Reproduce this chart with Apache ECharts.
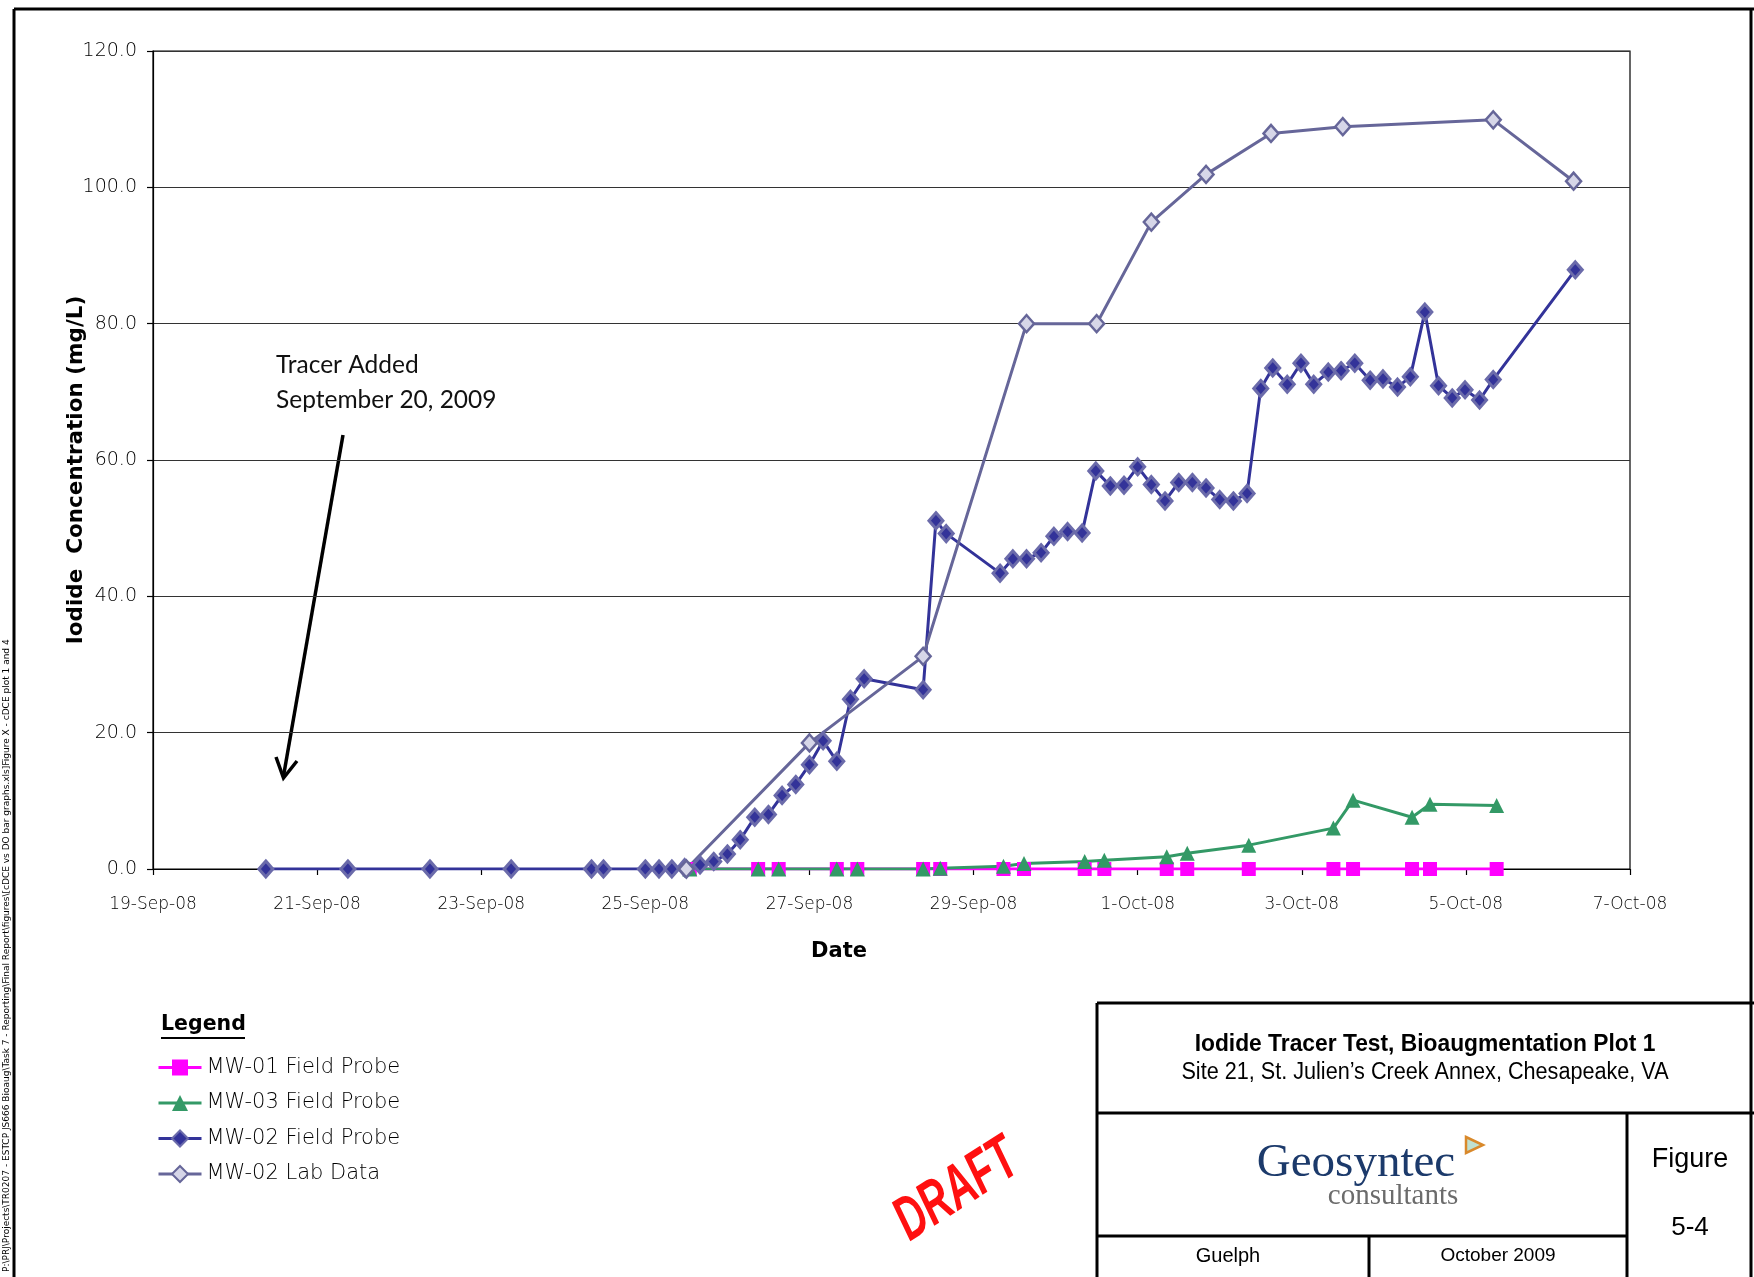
<!DOCTYPE html>
<html>
<head>
<meta charset="utf-8">
<title>Iodide Tracer Test, Bioaugmentation Plot 1</title>
<script src="https://cdn.jsdelivr.net/npm/echarts@6/dist/echarts.min.js"></script>
<style>
  html, body { margin: 0; padding: 0; background: #fff; }
  #chart { width: 1754px; height: 1277px; }
</style>
</head>
<body>
<div id="chart"></div>
<script>
// ---- Data -------------------------------------------------------------
// Sample times (local date/time) and iodide concentrations (mg/L)

const mw01Times = ['2008-09-25 13:00', '2008-09-26 09:00', '2008-09-26 15:00', '2008-09-27 08:00',
  '2008-09-27 14:00', '2008-09-28 09:15', '2008-09-28 14:15', '2008-09-29 08:45', '2008-09-29 14:45',
  '2008-09-30 08:30', '2008-09-30 14:15', '2008-10-01 08:30', '2008-10-01 14:30', '2008-10-02 08:30',
  '2008-10-03 09:15', '2008-10-03 15:00', '2008-10-04 08:15', '2008-10-04 13:30', '2008-10-05 09:00'];
const mw01Values = [0, 0, 0, 0, 0, 0, 0, 0, 0, 0, 0, 0, 0, 0, 0, 0, 0, 0, 0];

const mw03Times = mw01Times;
const mw03Values = [0, 0, 0, 0, 0, 0, 0.1, 0.4, 0.8, 1.1, 1.3, 1.8, 2.3, 3.5, 6.0, 10.1, 7.6, 9.5, 9.3];

const mw02FieldTimes = ['2008-09-20 09:00', '2008-09-21 09:00', '2008-09-22 09:00', '2008-09-23 08:45',
  '2008-09-24 08:15', '2008-09-24 11:45', '2008-09-25 00:00', '2008-09-25 04:00', '2008-09-25 07:45',
  '2008-09-25 11:30', '2008-09-25 16:00', '2008-09-25 20:00', '2008-09-26 00:00', '2008-09-26 03:45',
  '2008-09-26 08:00', '2008-09-26 12:00', '2008-09-26 16:00', '2008-09-26 20:00', '2008-09-27 00:00',
  '2008-09-27 04:00', '2008-09-27 08:00', '2008-09-27 12:00', '2008-09-27 16:00', '2008-09-28 09:15',
  '2008-09-28 13:00', '2008-09-28 16:00', '2008-09-29 07:45', '2008-09-29 11:30', '2008-09-29 15:30',
  '2008-09-29 19:45', '2008-09-29 23:30', '2008-09-30 03:30', '2008-09-30 07:45', '2008-09-30 11:45',
  '2008-09-30 16:00', '2008-09-30 20:00', '2008-10-01 00:00', '2008-10-01 04:00', '2008-10-01 08:00',
  '2008-10-01 12:00', '2008-10-01 16:00', '2008-10-01 20:00', '2008-10-02 00:00', '2008-10-02 04:00',
  '2008-10-02 08:00', '2008-10-02 12:00', '2008-10-02 15:30', '2008-10-02 19:45', '2008-10-02 23:45',
  '2008-10-03 03:30', '2008-10-03 07:45', '2008-10-03 11:30', '2008-10-03 15:30', '2008-10-03 20:00',
  '2008-10-03 23:45', '2008-10-04 04:00', '2008-10-04 07:45', '2008-10-04 12:00', '2008-10-04 16:00',
  '2008-10-04 20:00', '2008-10-04 23:45', '2008-10-05 04:00', '2008-10-05 08:00', '2008-10-06 08:00'];
const mw02FieldValues = [0, 0, 0, 0,
  0, 0, 0, 0, 0,
  0.2, 0.6, 1.1, 2.2, 4.3,
  7.6, 8.0, 10.8, 12.4, 15.3,
  18.8, 15.8, 24.9, 27.9, 26.3,
  51.1, 49.2, 43.4, 45.5, 45.5,
  46.4, 48.8, 49.5, 49.3, 58.4,
  56.2, 56.3, 59.0, 56.4, 54.0,
  56.7, 56.7, 55.9, 54.2, 54.0,
  55.1, 70.5, 73.5, 71.1, 74.2,
  71.1, 72.9, 73.1, 74.2, 71.7,
  71.9, 70.7, 72.2, 81.7, 70.9,
  69.1, 70.3, 68.8, 71.8, 87.9];

const mw02LabTimes = ['2008-09-25 12:00', '2008-09-27 00:00', '2008-09-28 09:15', '2008-09-29 15:30',
  '2008-09-30 12:00', '2008-10-01 04:00', '2008-10-01 20:00', '2008-10-02 15:00', '2008-10-03 12:00',
  '2008-10-05 08:00', '2008-10-06 07:30'];
const mw02LabValues = [0, 18.5, 31.2, 80.0, 80.0, 94.9, 101.9, 107.9, 108.9, 109.9, 100.9];

const seriesNames = ['MW-01 Field Probe', 'MW-03 Field Probe', 'MW-02 Field Probe', 'MW-02 Lab Data'];
const dateTickLabels = ['19-Sep-08', '21-Sep-08', '23-Sep-08', '25-Sep-08', '27-Sep-08',
  '29-Sep-08', '1-Oct-08', '3-Oct-08', '5-Oct-08', '7-Oct-08'];

// ---- Helpers ----------------------------------------------------------
// x values are days elapsed since the axis origin, 19-Sep-08 00:00
const ORIGIN = Date.UTC(2008, 8, 19);
function dayOffset(s) {
  const [d, t] = s.split(' ');
  const [Y, M, D] = d.split('-').map(Number);
  const [h, m] = (t || '00:00').split(':').map(Number);
  return (Date.UTC(Y, M - 1, D, h, m) - ORIGIN) / 86400000;
}
function pairs(times, values) {
  return times.map((t, i) => [dayOffset(t), values[i]]);
}

const GOTHIC = "'DejaVu Sans', sans-serif";
const SANS = "'Liberation Sans', Arial, sans-serif";
const SERIF = "'Liberation Serif', 'Times New Roman', serif";

const chart = echarts.init(document.getElementById('chart'), null, { renderer: 'canvas' });

function hline(x1, y, x2, w) {
  return { type: 'line', silent: true, shape: { x1: x1, y1: y, x2: x2, y2: y }, style: { stroke: '#000', lineWidth: w } };
}
function vline(x, y1, y2, w) {
  return { type: 'line', silent: true, shape: { x1: x, y1: y1, x2: x, y2: y2 }, style: { stroke: '#000', lineWidth: w } };
}
function label(x, y, text, opts) {
  return Object.assign({
    type: 'text', silent: true, x: x, y: y,
    style: Object.assign({ text: text, fill: '#111', align: 'center', verticalAlign: 'middle' }, opts.style)
  }, opts.el || {});
}

const graphics = [
  // page frame
  hline(14, 9, 1754, 3),
  vline(14, 9, 1277, 3),
  vline(1751, 9, 1277, 3),

  // file path along the left margin
  label(7, 1272, 'P:\\PRJ\\Projects\\TR0207 - ESTCP JS666 Bioaug\\Task 7 - Reporting\\Final Report\\figures\\[cDCE vs DO bar graphs.xls]Figure X - cDCE plot 1 and 4', {
    el: { rotation: Math.PI / 2 },
    style: { align: 'left', fontSize: 9, fontFamily: GOTHIC, fill: '#000' }
  }),

  // axis titles
  label(76, 470, 'Iodide  Concentration (mg/L)', {
    el: { rotation: Math.PI / 2 },
    style: { fontSize: 21.5, fontWeight: 'bold', fontFamily: GOTHIC, fill: '#000' }
  }),
  label(839, 952, 'Date', { style: { fontSize: 21, fontWeight: 'bold', fontFamily: GOTHIC, fill: '#000' } }),

  // tracer note and arrow
  label(276, 365, 'Tracer Added', { style: { align: 'left', fontSize: 24.5, fontFamily: "Lato, sans-serif", fill: '#111' } }),
  label(276, 400, 'September 20, 2009', { style: { align: 'left', fontSize: 24.5, fontFamily: "Lato, sans-serif", fill: '#111' } }),
  { type: 'polyline', silent: true, shape: { points: [[343, 435], [283.5, 776]] }, style: { stroke: '#000', lineWidth: 3.5, fill: null } },
  { type: 'polyline', silent: true, shape: { points: [[276, 757], [283.5, 778], [297, 761]] }, style: { stroke: '#000', lineWidth: 3.5, fill: null, lineJoin: 'miter' } },

  // legend heading
  label(161, 1025, 'Legend', { style: { align: 'left', fontSize: 20.5, fontWeight: 'bold', fontFamily: GOTHIC, fill: '#000' } }),
  hline(161, 1038, 245, 2.2),

  // DRAFT stamp
  label(957, 1191, 'DRAFT', {
    el: { rotation: 0.57, scaleX: 0.64 },
    style: { fontSize: 62, fontWeight: 'bold', fontStyle: 'italic', fontFamily: SANS, fill: '#ff1010' }
  }),

  // title block
  hline(1097, 1003, 1754, 3),
  vline(1097, 1003, 1277, 3),
  hline(1097, 1113, 1754, 3),
  vline(1627, 1113, 1277, 3),
  hline(1097, 1236, 1627, 3),
  vline(1369, 1236, 1277, 3),

  label(1425, 1044, 'Iodide Tracer Test, Bioaugmentation Plot 1', {
    el: { scaleX: 0.95 },
    style: { fontSize: 24, fontWeight: 'bold', fontFamily: SANS, fill: '#000' }
  }),
  label(1425, 1073, 'Site 21, St. Julien\u2019s Creek Annex, Chesapeake, VA', {
    el: { scaleX: 0.94 },
    style: { fontSize: 23, fontFamily: SANS, fill: '#000' }
  }),
  label(1356, 1164, 'Geosyntec', { style: { fontSize: 47, fontFamily: SERIF, fill: '#1c3a6b' } }),
  { type: 'polygon', silent: true, shape: { points: [[1466, 1137], [1483, 1145], [1466, 1153]] },
    style: { fill: '#bfe0d0', stroke: '#d9892b', lineWidth: 2.5 } },
  label(1393, 1196, 'consultants', { style: { fontSize: 29, fontFamily: SERIF, fill: '#6b6b6b' } }),
  label(1690, 1160, 'Figure', { style: { fontSize: 27, fontFamily: SANS, fill: '#000' } }),
  label(1690, 1228, '5-4', { style: { fontSize: 26, fontFamily: SANS, fill: '#000' } }),
  label(1228, 1256, 'Guelph', { style: { fontSize: 20, fontFamily: SANS, fill: '#000' } }),
  label(1498, 1256, 'October 2009', { style: { fontSize: 19, fontFamily: SANS, fill: '#000' } })
];

const option = {
  backgroundColor: '#fff',
  animation: false,
  grid: {
    left: 153, right: 124, top: 51, bottom: 408,
    show: true, backgroundColor: '#fff', borderColor: '#000', borderWidth: 1.2
  },
  xAxis: {
    type: 'value', min: 0, max: 18, interval: 2,
    axisLine: { show: true, onZero: false, lineStyle: { color: '#000', width: 1.2 } },
    axisTick: { show: true, inside: false, length: 6, lineStyle: { color: '#000', width: 1.2 } },
    axisLabel: {
      margin: 27, fontSize: 17, fontFamily: GOTHIC, fontWeight: 300, color: '#000',
      formatter: (v) => dateTickLabels[Math.round(v / 2)]
    },
    splitLine: { show: false }
  },
  yAxis: {
    type: 'value', min: 0, max: 120, interval: 20,
    axisLine: { show: true, lineStyle: { color: '#000', width: 1.2 } },
    axisTick: { show: true, inside: false, length: 6, lineStyle: { color: '#000', width: 1.2 } },
    axisLabel: {
      margin: 16, fontSize: 19, fontFamily: GOTHIC, fontWeight: 300, color: '#000',
      formatter: (v) => v.toFixed(1)
    },
    splitLine: { show: true, lineStyle: { color: '#333', width: 1.2 } }
  },
  legend: {
    orient: 'vertical', left: 157, top: 1057, padding: 0,
    itemWidth: 43, itemHeight: 20, itemGap: 14.5,
    lineStyle: { width: 3 },
    textStyle: { fontSize: 21, fontFamily: GOTHIC, fontWeight: 300, color: '#000', lineHeight: 20 },
    data: seriesNames
  },
  series: [
    {
      name: seriesNames[0], type: 'line', data: pairs(mw01Times, mw01Values),
      symbol: 'rect', symbolSize: 14, showAllSymbol: true,
      lineStyle: { color: '#ff00ff', width: 3 },
      itemStyle: { color: '#ff00ff', borderColor: '#ff00ff', borderWidth: 0 }
    },
    {
      name: seriesNames[1], type: 'line', data: pairs(mw03Times, mw03Values),
      symbol: 'triangle', symbolSize: 15, showAllSymbol: true,
      lineStyle: { color: '#339966', width: 3 },
      itemStyle: { color: '#339966', borderColor: '#339966', borderWidth: 0 }
    },
    {
      name: seriesNames[2], type: 'line', data: pairs(mw02FieldTimes, mw02FieldValues),
      symbol: 'diamond', symbolSize: [14, 16], showAllSymbol: true,
      lineStyle: { color: '#333399', width: 3 },
      itemStyle: { color: '#333399', borderColor: '#6b6baa', borderWidth: 3 }
    },
    {
      name: seriesNames[3], type: 'line', data: pairs(mw02LabTimes, mw02LabValues),
      symbol: 'diamond', symbolSize: [15, 17], showAllSymbol: true,
      lineStyle: { color: '#666699', width: 3 },
      itemStyle: { color: '#d6d6e8', borderColor: '#666699', borderWidth: 2.5 }
    }
  ],
  graphic: { elements: graphics }
};

chart.setOption(option);
</script>
</body>
</html>
